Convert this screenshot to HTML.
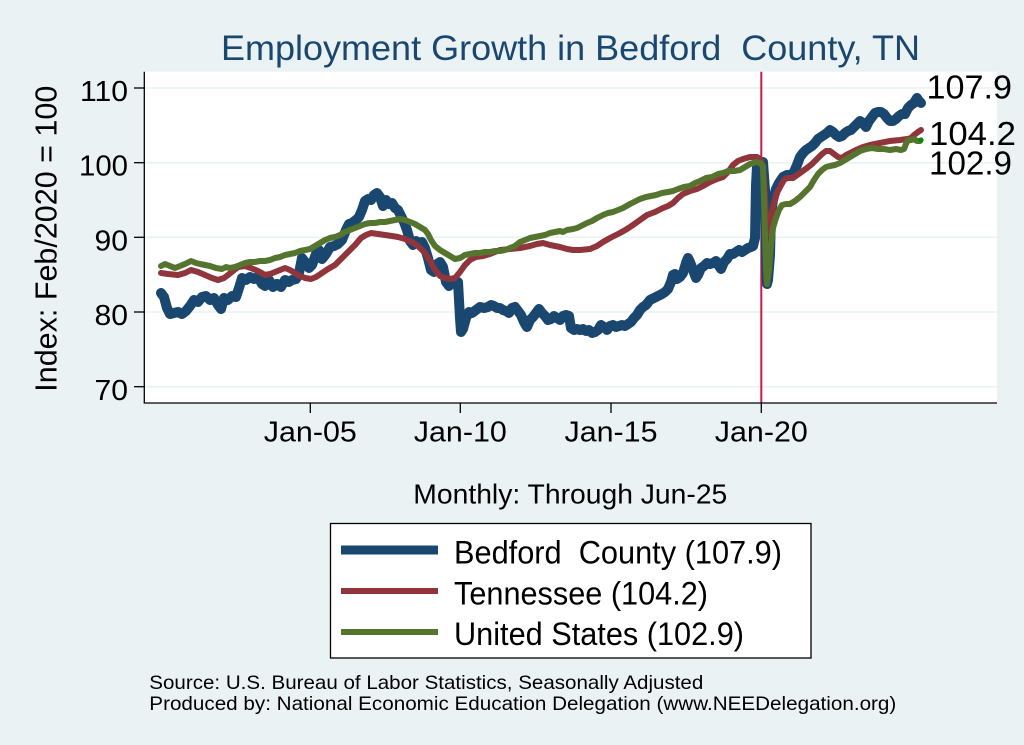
<!DOCTYPE html>
<html>
<head>
<meta charset="utf-8">
<style>
  html,body{margin:0;padding:0;background:#eaf2f3;}
  svg{display:block;}
  text{font-family:"Liberation Sans", Arial, sans-serif; white-space:pre;}
</style>
</head>
<body>
<svg width="1024" height="745" viewBox="0 0 1024 745" xmlns="http://www.w3.org/2000/svg">
  <rect x="0" y="0" width="1024" height="745" fill="#eaf2f3"/>
  <!-- plot region -->
  <rect x="144.5" y="71.7" width="852.5" height="331.3" fill="#ffffff"/>
  <!-- grid -->
  <g stroke="#eaf2f3" stroke-width="1.6">
    <line x1="145" y1="88" x2="997" y2="88"/>
    <line x1="145" y1="162.7" x2="997" y2="162.7"/>
    <line x1="145" y1="237.3" x2="997" y2="237.3"/>
    <line x1="145" y1="312" x2="997" y2="312"/>
    <line x1="145" y1="386.7" x2="997" y2="386.7"/>
  </g>
  <!-- title -->
  <text x="221" y="60" font-size="35" fill="#1a476f" textLength="699" lengthAdjust="spacingAndGlyphs">Employment Growth in Bedford  County, TN</text>

  <!-- vertical reference line -->
  <line x1="761.3" y1="71.7" x2="761.3" y2="403" stroke="#cc1a4a" stroke-width="2"/>

  <!-- series -->
  <g fill="none" stroke-linejoin="round" stroke-linecap="round">
    <polyline stroke="#1a476f" stroke-width="10" points="161,293 164,297 167,308 170,314 174,313 178,312 182,314 186,311 190,306 194,300 198,302 202,297 206,296 210,300 214,298 218,305 221,309 224,298 228,300 232,296 236,297 239,288 242,278 246,280 250,277 254,279 258,277 262,284 265,286 269,280 273,287 277,284 281,287 285,280 289,282 292,280 296,279 299,273 302,258 305,262 309,268 312,265 316,254 319,250 322,259 326,254 330,247 334,246 338,244 342,240 346,230 349,224 352,223 356,220 359,217 362,210 365,201 368,199 371,200 374,195 377,193 380,197 383,206 386,200 389,204 392,203 395,208 398,210 401,216 404,222 407,230 410,241 413,245 416,241 419,243 422,242 425,248 428,258 431,270 434,272 437,264 440,262 443,267 446,282 449,286 452,282 455,284 458,282 460,318 461,332 463,329 466,318 469,312 472,313 476,310 480,307 484,308 488,307 491,305 494,306 497,308 500,308 503,310 506,311 509,313 512,308 515,307 518,311 521,315 524,322 527,327 530,320 533,317 536,313 539,309 542,313 545,316 548,320 551,319 554,316 557,318 560,320 563,316 566,315 569,316 571,328 574,330 577,329 580,330 583,329 586,331 589,330 592,333 595,332 598,330 601,325 604,327 607,330 610,326 613,325 616,327 619,326 622,325 625,326 628,324 631,322 634,318 637,315 640,310 643,307 646,305 650,300 654,298 658,296 662,294 665,292 668,289 671,282 673,275 675,274 677,279 680,277 683,273 686,263 688,258 690,262 693,270 696,278 698,275 701,268 704,266 707,263 710,264 713,263 716,261 719,266 721,269 724,262 727,259 730,254 733,254 736,252 739,250 742,252 745,250 748,248 751,247 753,246 755,238 756,185 757,166 760,162 763,162 765,190 766,260 767,284 768,280 770,255 771,215 773,200 776,189 779,183 783,177 787,175 791,175 794,172 797,165 800,157 803,153 806,150 809,148 812,146 815,143 818,139 821,137 824,135 827,133 830,130 833,132 836,135 839,137 842,136 845,133 848,131 851,130 854,127 857,124 860,121 863,123 866,127 869,121 872,117 875,113 878,112 881,112 884,114 887,118 890,121 893,121 896,119 899,116 902,114 905,114 908,108 911,105 914,103 917,98 919,101 921,103"/>
    <polyline stroke="#90353b" stroke-width="6" points="161,273 168,274 178,275 185,273 191,270 198,272 205,275 212,278 218,280 224,278 228,275 233,271 238,267 245,266 251,268 258,271 265,275 270,274 275,272 280,270 285,268 290,270 295,273 298,275 305,278 311,279 316,277 322,273 328,269 335,265 342,258 348,252 355,245 361,238 366,235 371,233 378,234 385,235 392,236 398,237 405,239 412,242 418,246 425,253 430,261 435,270 440,276 445,278 450,279 455,278 460,272 465,265 470,260 476,257 483,256 490,254 500,250 510,249 520,248 530,246 537,244 543,243 550,245 560,247 567,249 573,250 580,250 590,249 597,246 603,242 610,238 620,233 627,229 633,225 640,220 647,215 655,212 663,208 668,206 673,203 678,198 683,194 690,191 697,189 703,186 710,182 717,179 723,177 728,172 733,165 738,161 743,159 750,157 757,157 760,159 762,163 764,180 766,215 768,234 770,225 773,207 776,195 780,187 784,180 787,178 793,178 800,173 807,168 812,164 817,159 822,154 826,151 830,151 834,154 838,157 842,158 846,155 850,153 856,150 863,147 870,145 880,143 890,141 900,140 907,139 911,138 914,135 918,132 921,130"/>
    <polyline stroke="#55752f" stroke-width="6" points="161,266 165,264 170,266 175,268 180,266 185,264 191,261 196,263 200,264 205,265 210,266 216,268 222,269 226,267 230,268 235,267 240,265 245,263 250,262 255,262 260,261 265,261 270,260 275,258 280,257 285,255 290,254 295,253 300,251 305,250 310,249 315,246 320,243 325,240 330,238 335,237 340,235 345,232 350,230 355,228 360,226 365,224 370,223 375,223 380,222 385,222 390,221 395,220 400,219 405,220 410,222 415,224 420,227 425,230 428,234 431,240 435,246 440,250 445,253 450,256 455,259 460,258 465,255 470,254 475,253 480,253 485,252 490,252 495,251 500,251 505,250 510,248 515,246 520,242 525,240 530,238 535,237 540,236 545,235 550,233 555,232 560,231 563,232 567,230 573,229 577,228 581,226 587,223 592,221 597,218 603,215 608,213 613,212 618,210 623,208 630,204 636,201 640,199 646,197 651,196 656,195 662,193 668,192 673,191 678,189 684,187 690,186 695,183 700,181 706,178 712,177 718,174 723,173 728,171 734,171 740,170 745,167 750,164 756,162 760,163 763,166 764,200 766,270 767,284 769,270 771,245 773,228 776,218 779,210 782,205 786,204 790,204 795,201 800,197 805,192 810,187 814,180 818,174 822,170 826,167 830,166 835,165 840,163 845,160 850,157 855,154 860,151 866,149 872,148 878,149 884,149 890,150 896,149 901,150 904,149 906,144 908,140 911,140 914,139 917,141 920,141"/>
  </g>
  <circle cx="921" cy="140" r="2.6" fill="#008c00"/>

  <!-- axes -->
  <g stroke="#000" stroke-width="1.3">
    <line x1="144.3" y1="71.7" x2="144.3" y2="403"/>
    <line x1="143.7" y1="403" x2="997" y2="403"/>
    <line x1="134" y1="88" x2="144.3" y2="88"/>
    <line x1="134" y1="162.7" x2="144.3" y2="162.7"/>
    <line x1="134" y1="237.3" x2="144.3" y2="237.3"/>
    <line x1="134" y1="312" x2="144.3" y2="312"/>
    <line x1="134" y1="386.7" x2="144.3" y2="386.7"/>
    <line x1="310.3" y1="403" x2="310.3" y2="413"/>
    <line x1="460.3" y1="403" x2="460.3" y2="413"/>
    <line x1="611" y1="403" x2="611" y2="413"/>
    <line x1="761.3" y1="403" x2="761.3" y2="413"/>
  </g>

  <!-- y tick labels -->
  <g font-size="29" fill="#000">
    <text x="80" y="101" textLength="48" lengthAdjust="spacingAndGlyphs">110</text>
    <text x="79" y="175.7" textLength="49" lengthAdjust="spacingAndGlyphs">100</text>
    <text x="94.5" y="250.5" textLength="33.5" lengthAdjust="spacingAndGlyphs">90</text>
    <text x="94.5" y="325" textLength="33.5" lengthAdjust="spacingAndGlyphs">80</text>
    <text x="94.5" y="399.8" textLength="33.5" lengthAdjust="spacingAndGlyphs">70</text>
  </g>
  <!-- x tick labels -->
  <g font-size="29" fill="#000">
    <text x="263.8" y="441.7" textLength="93" lengthAdjust="spacingAndGlyphs">Jan-05</text>
    <text x="413.8" y="441.7" textLength="93" lengthAdjust="spacingAndGlyphs">Jan-10</text>
    <text x="564.5" y="441.7" textLength="93" lengthAdjust="spacingAndGlyphs">Jan-15</text>
    <text x="714.8" y="441.7" textLength="93" lengthAdjust="spacingAndGlyphs">Jan-20</text>
  </g>
  <!-- y axis title -->
  <text transform="translate(56.5,391.7) rotate(-90)" x="0" y="0" font-size="31" fill="#000" textLength="306" lengthAdjust="spacingAndGlyphs">Index: Feb/2020 = 100</text>

  <!-- end labels -->
  <g font-size="33" fill="#000">
    <text x="926.5" y="98.3" textLength="85.5" lengthAdjust="spacingAndGlyphs">107.9</text>
    <text x="929" y="145" textLength="87" lengthAdjust="spacingAndGlyphs">104.2</text>
    <text x="929" y="174.3" textLength="83" lengthAdjust="spacingAndGlyphs">102.9</text>
  </g>

  <!-- x axis title -->
  <text x="413.3" y="503.3" font-size="28" fill="#000" textLength="314" lengthAdjust="spacingAndGlyphs">Monthly: Through Jun-25</text>

  <!-- legend -->
  <rect x="330.5" y="523.5" width="480.5" height="134.5" fill="#ffffff" stroke="#000" stroke-width="1.3"/>
  <line x1="341" y1="550" x2="438" y2="550" stroke="#1a476f" stroke-width="9"/>
  <line x1="341" y1="591" x2="438" y2="591" stroke="#90353b" stroke-width="6"/>
  <line x1="341" y1="632" x2="438" y2="632" stroke="#55752f" stroke-width="6"/>
  <g font-size="32" fill="#000">
    <text x="454" y="563.3" textLength="328" lengthAdjust="spacingAndGlyphs">Bedford  County (107.9)</text>
    <text x="454" y="604.3" textLength="254" lengthAdjust="spacingAndGlyphs">Tennessee (104.2)</text>
    <text x="454" y="645" textLength="290" lengthAdjust="spacingAndGlyphs">United States (102.9)</text>
  </g>

  <!-- source notes -->
  <g font-size="19.5" fill="#000">
    <text x="149.3" y="689" textLength="554" lengthAdjust="spacingAndGlyphs">Source: U.S. Bureau of Labor Statistics, Seasonally Adjusted</text>
    <text x="149.3" y="710" textLength="747" lengthAdjust="spacingAndGlyphs">Produced by: National Economic Education Delegation (www.NEEDelegation.org)</text>
  </g>
</svg>
</body>
</html>
